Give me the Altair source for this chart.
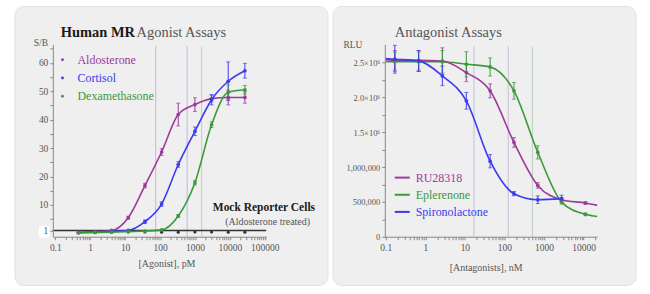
import altair as alt
import pandas as pd

FONT = "Liberation Serif"

# ---------------- Agonist panel data ----------------
ag_series = ["Aldosterone", "Cortisol", "Dexamethasone"]
ag_colors = ["#9c3a9c", "#3b3bf0", "#3a9a3a"]
ag_light = ["#d6bcd6", "#c0c0ec", "#c0d8c0"]
ag_conc = [0.46, 1.37, 4.1, 12.3, 37, 111, 333, 1000, 3000, 9000, 27000]
aldo = [0.4, 0.6, 1.0, 5.5, 16.8, 28.6, 41.8, 45.3, 47.4, 47.8, 47.8]
aldo_err = [0, 0, 0, 0.5, 0.8, 1.2, 4.0, 2.4, 1.2, 2.6, 2.0]
cort = [0.2, 0.4, 0.7, 1.0, 4.1, 10.3, 24.2, 35.9, 47.0, 53.5, 57.2]
cort_err = [0, 0, 0, 0, 0.6, 0.8, 1.0, 1.5, 1.8, 6.8, 2.6]
dex = [0.2, 0.3, 0.4, 0.6, 0.8, 1.2, 6.1, 17.8, 38.2, 49.6, 50.5]
dex_err = [0, 0, 0, 0, 0, 0, 0.5, 0.8, 1.0, 2.6, 1.5]
mock_sb = [0.5, 0.4, 0.4, 0.5, 0.5, 0.4, 0.4, 0.5, 0.5, 0.4, 0.4]
ag_ec50 = [75, 600, 1550]
baseline_sb = [1]

# ---------------- Antagonist panel data ----------------
ant_series = ["RU28318", "Eplerenone", "Spironolactone"]
ant_colors = ["#9c3a9c", "#3a9a3a", "#3b3bf0"]
ant_light = ["#d2c4d8", "#c4d4c4", "#c8c8e6"]
ant_conc = [0.17, 0.68, 2.7, 10.9, 43.5, 174, 696, 2780, 11100]
ru = [2530000, 2530000, 2520000, 2354000, 2093000, 1354000, 736000, 531000, 483000]
ru_err = [140000, 140000, 190000, 130000, 100000, 70000, 40000, 30000, 20000]
epl = [2510000, 2510000, 2510000, 2474000, 2436000, 2093000, 1211000, 497000, 321000]
epl_err = [140000, 140000, 160000, 180000, 130000, 120000, 95000, 30000, 20000]
spi = [2546000, 2521000, 2307000, 1950000, 1083000, 617000, 531000, 546000]
spi_err = [200000, 150000, 140000, 120000, 95000, 30000, 55000, 50000]
ant_ic50 = [125, 510, 17]
curve_head_conc = 0.1
curve_head = [2540000, 2510000, 2555000]
curve_tail_conc = 22000
ru_tail = 450000
epl_tail = 290000

# ---------------- helpers ----------------
W1, W2, H = 214, 213, 193
one = pd.DataFrame({"k": [0]})


def log_ticks(lo, hi):
    vals = []
    for e in range(-2, 7):
        for m in range(1, 10):
            v = round(m * 10.0 ** e, 6)
            if lo <= v <= hi:
                vals.append(v)
    return vals


DECADE = "abs(log(datum.value)/LN10 - round(log(datum.value)/LN10)) < 0.0001"


def log_axis(vals):
    return alt.Axis(
        values=vals, title=None, grid=False, zindex=1,
        labelExpr=f"{DECADE} ? format(datum.value, '~g') : ''",
        tickSize=3,
        labelFont=FONT, labelFontSize=9.5, labelColor="#555",
        labelPadding=3, labelFlush=False, labelOverlap=False,
        domainColor="#888", tickColor="#888",
    )


def txt(s, x, y, size, color, weight="normal", align="left"):
    return alt.Chart(one).mark_text(
        font=FONT, fontSize=size, fontWeight=weight, color=color,
        align=align, baseline="middle",
    ).encode(x=alt.value(x), y=alt.value(y), text=alt.value(s))


def panel_bg(x0, x1):
    return alt.Chart(one).mark_rect(
        cornerRadius=9, fill="#efefef", stroke="#e2e2e2"
    ).encode(x=alt.value(x0), x2=alt.value(x1), y=alt.value(-38), y2=alt.value(242))


def long_df(conc, series_names, values, errs):
    rows = []
    for name, vals, er in zip(series_names, values, errs):
        for c, v, e in zip(conc, vals, er):
            rows.append({"conc": c, "val": v, "lo": v - e, "hi": v + e, "err": e, "series": name})
    return pd.DataFrame(rows)


# ================= Agonist panel =================
xs_ag = alt.Scale(type="log", domain=[0.085, 110000])
ys_ag = alt.Scale(domain=[-1.2, 66.5], nice=False, zero=False)
col_ag = alt.Color("series:N", scale=alt.Scale(domain=ag_series, range=ag_colors), legend=None)

ag_df = long_df(ag_conc, ag_series, [aldo, cort, dex], [aldo_err, cort_err, dex_err])
ag_err_df = ag_df[ag_df["err"] > 0]
mock_df = pd.DataFrame({"conc": ag_conc, "val": mock_sb})

ag_y_vals = [1] + list(range(5, 66, 5))
ag_y_major = "datum.value == 1 || datum.value % 10 == 0"
ag_x_axis = log_axis(log_ticks(0.1, 100000))
ag_y_axis = alt.Axis(
    values=ag_y_vals, title=None, grid=False, zindex=1,
    labelExpr=f"{ag_y_major} ? datum.label : ''",
    tickSize=3,
    labelFont=FONT, labelFontSize=9.5, labelColor="#555", labelPadding=2,
    domainColor="#888", tickColor="#888", labelOverlap=False,
)
XA = alt.X("conc:Q", scale=xs_ag, axis=ag_x_axis)


def YA(f):
    return alt.Y(f"{f}:Q", scale=ys_ag, axis=ag_y_axis)


layers_ag = [panel_bg(-38, 276)]
layers_ag.append(
    alt.Chart(one).mark_rect(fill="white", cornerRadius=2).encode(
        x=alt.value(-14), x2=alt.value(-3.5), y=alt.value(182), y2=alt.value(194))
)
for c, lc in zip(ag_ec50, ag_light):
    layers_ag.append(
        alt.Chart(pd.DataFrame({"conc": [c]})).mark_rule(color=lc, strokeWidth=1.2).encode(
            x=XA, y=alt.value(2), y2=alt.value(H))
    )
layers_ag.append(
    alt.Chart(pd.DataFrame({"val": baseline_sb})).mark_rule(color="#333", strokeWidth=1.6).encode(
        y=YA("val"), x=alt.value(0), x2=alt.value(W1))
)
layers_ag.append(
    alt.Chart(mock_df).mark_circle(size=10, color="#333", opacity=1).encode(x=XA, y=YA("val"))
)
layers_ag.append(
    alt.Chart(ag_err_df).mark_rule(strokeWidth=1).encode(
        x=XA, y=YA("lo"), y2="hi:Q", color=col_ag)
)
for fld in ["lo", "hi"]:
    layers_ag.append(
        alt.Chart(ag_err_df).mark_tick(orient="horizontal", size=4, thickness=1).encode(
            x=XA, y=YA(fld), color=col_ag)
    )
layers_ag.append(
    alt.Chart(ag_df).mark_line(strokeWidth=1.6, interpolate="monotone").encode(
        x=XA, y=YA("val"), color=col_ag, detail="series:N")
)
layers_ag.append(
    alt.Chart(ag_df).mark_circle(size=14, opacity=1).encode(x=XA, y=YA("val"), color=col_ag)
)
for i, (name, c) in enumerate(zip(ag_series, ag_colors)):
    yy = 15.5 + i * 18.3
    layers_ag.append(
        alt.Chart(one).mark_circle(size=8, color=c, opacity=1).encode(x=alt.value(9.7), y=alt.value(yy)))
    layers_ag.append(txt(name, 24.7, yy, 12, c))
layers_ag += [
    txt("Human MR", 8, -11.5, 14.5, "#1a1a1a", weight="bold"),
    txt("Agonist Assays", 84, -11.5, 14.5, "#555"),
    txt("S/B", -12, -1, 9.5, "#555", align="center"),
    txt("[Agonist], pM", 114.5, 220, 10, "#555", align="center"),
    txt("Mock Reporter Cells", 263, 163.7, 11.5, "#1a1a1a", weight="bold", align="right"),
    txt("(Aldosterone treated)", 258, 178.7, 10, "#555", align="right"),
]
left = alt.layer(*layers_ag).properties(width=W1, height=H)

# ================= Antagonist panel =================
xs_an = alt.Scale(type="log", domain=[0.095, 22000])
ys_an = alt.Scale(domain=[0, 2760000], nice=False)
col_an = alt.Color("series:N", scale=alt.Scale(domain=ant_series, range=ant_colors), legend=None)

an_pts = pd.concat([
    long_df(ant_conc, ant_series[:2], [ru, epl], [ru_err, epl_err]),
    long_df(ant_conc[:len(spi)], ant_series[2:], [spi], [spi_err]),
])
an_err_df = an_pts[an_pts["err"] > 0]

curve_rows = []
for name, head in zip(ant_series, curve_head):
    curve_rows.append({"conc": curve_head_conc, "val": head, "series": name})
for _, r in an_pts.iterrows():
    curve_rows.append({"conc": r["conc"], "val": r["val"], "series": r["series"]})
curve_rows.append({"conc": curve_tail_conc, "val": ru_tail, "series": ant_series[0]})
curve_rows.append({"conc": curve_tail_conc, "val": epl_tail, "series": ant_series[1]})
an_curve = pd.DataFrame(curve_rows).sort_values(["series", "conc"])

an_y_vals = list(range(0, 2500001, 250000))
an_x_axis = log_axis(log_ticks(0.1, 22000))
an_y_axis = alt.Axis(
    values=an_y_vals, title=None, grid=False, zindex=1,
    labelExpr=("datum.value == 0 ? '0' : datum.value % 500000 != 0 ? '' : "
               "datum.value >= 1500000 ? format(datum.value / 1000000, '.1f') + '×10⁶' : "
               "format(datum.value, ',')"),
    tickSize=3,
    labelFont=FONT, labelFontSize=8.5, labelColor="#555", labelPadding=2,
    domainColor="#888", tickColor="#888", labelOverlap=False,
)
XN = alt.X("conc:Q", scale=xs_an, axis=an_x_axis)


def YN(f):
    return alt.Y(f"{f}:Q", scale=ys_an, axis=an_y_axis)


layers_an = [panel_bg(-52, 252)]
for c, lc in zip(ant_ic50, ant_light):
    layers_an.append(
        alt.Chart(pd.DataFrame({"conc": [c]})).mark_rule(color=lc, strokeWidth=1.2).encode(
            x=XN, y=alt.value(2), y2=alt.value(H))
    )
layers_an.append(
    alt.Chart(an_err_df).mark_rule(strokeWidth=1).encode(
        x=XN, y=YN("lo"), y2="hi:Q", color=col_an)
)
for fld in ["lo", "hi"]:
    layers_an.append(
        alt.Chart(an_err_df).mark_tick(orient="horizontal", size=4, thickness=1).encode(
            x=XN, y=YN(fld), color=col_an)
    )
layers_an.append(
    alt.Chart(an_curve).mark_line(strokeWidth=1.6, interpolate="monotone").encode(
        x=XN, y=YN("val"), color=col_an, detail="series:N")
)
layers_an.append(
    alt.Chart(an_pts).mark_circle(size=14, opacity=1).encode(x=XN, y=YN("val"), color=col_an)
)
for i, (name, c) in enumerate(zip(ant_series, ant_colors)):
    yy = 133.7 + i * 17.2
    layers_an.append(
        alt.Chart(one).mark_rule(color=c, strokeWidth=2).encode(
            x=alt.value(10), x2=alt.value(25), y=alt.value(yy)))
    layers_an.append(txt(name, 31, yy, 12, c))
layers_an += [
    txt("Antagonist Assays", 10, -11.5, 14.5, "#555"),
    txt("RLU", -32, 1, 9.5, "#555", align="center"),
    txt("[Antagonists], nM", 101.7, 224, 10, "#555", align="center"),
]
right = alt.layer(*layers_an).properties(width=W2, height=H)

chart = alt.hconcat(left, right, spacing=119, bounds="flush").resolve_scale(
    color="independent"
).properties(
    padding={"left": 14, "top": 5, "right": 13, "bottom": 9},
    background="white",
).configure_view(stroke=None)

chart.save("out.html", embed_options={"renderer": "svg", "actions": False})
